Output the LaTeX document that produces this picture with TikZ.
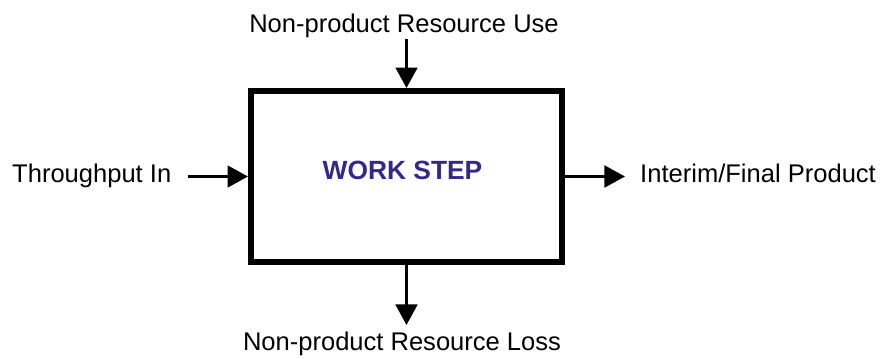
\documentclass[tikz,border=0pt]{standalone}
\usepackage{fontspec}
\setmainfont{Liberation Sans}
\usetikzlibrary{arrows.meta}
\definecolor{stepblue}{RGB}{52,40,138}

\begin{document}
\begin{tikzpicture}[x = 0.03cm, y = -0.03cm,
    lbl/.style = {inner sep = 0pt, font = \fontsize{21.8}{26}\selectfont},
    flow/.style = {line width = 2.5pt, -{Triangle[length = 17.5pt, width = 18.5pt]}},
    stepbox/.style = {draw, line width = 5.1pt, minimum width = 9.33cm, minimum height = 5.13cm, inner sep = 0pt}]
    \useasboundingbox (0,0) rectangle (889,358);
    \node[stepbox] (work) at (406.5,176.5) {};
    \node[lbl, anchor = base, font = \fontsize{22.5}{26}\selectfont\bfseries, text = stepblue] (title) at (402.5,179) {WORK STEP};
    \node[lbl, anchor = base] (use) at (404,32) {Non-product Resource Use};
    \node[lbl, anchor = base] (loss) at (402,350) {Non-product Resource Loss};
    \node[lbl, anchor = base west] (thru) at (12,182) {Throughput In};
    \node[lbl, anchor = base west] (prod) at (640,182) {Interim/Final Product};
    % connectors
    \draw[flow] (work.north |- use.base) ++(0,7) -- (work.north);
    \draw[flow] (work.south) -- ++(0,60);
    \draw[flow, shorten < = 0.5cm] (thru.east |- work.west) -- (work.west);
    \draw[flow] (work.east) -- ++(60,0);
\end{tikzpicture}
\end{document}
